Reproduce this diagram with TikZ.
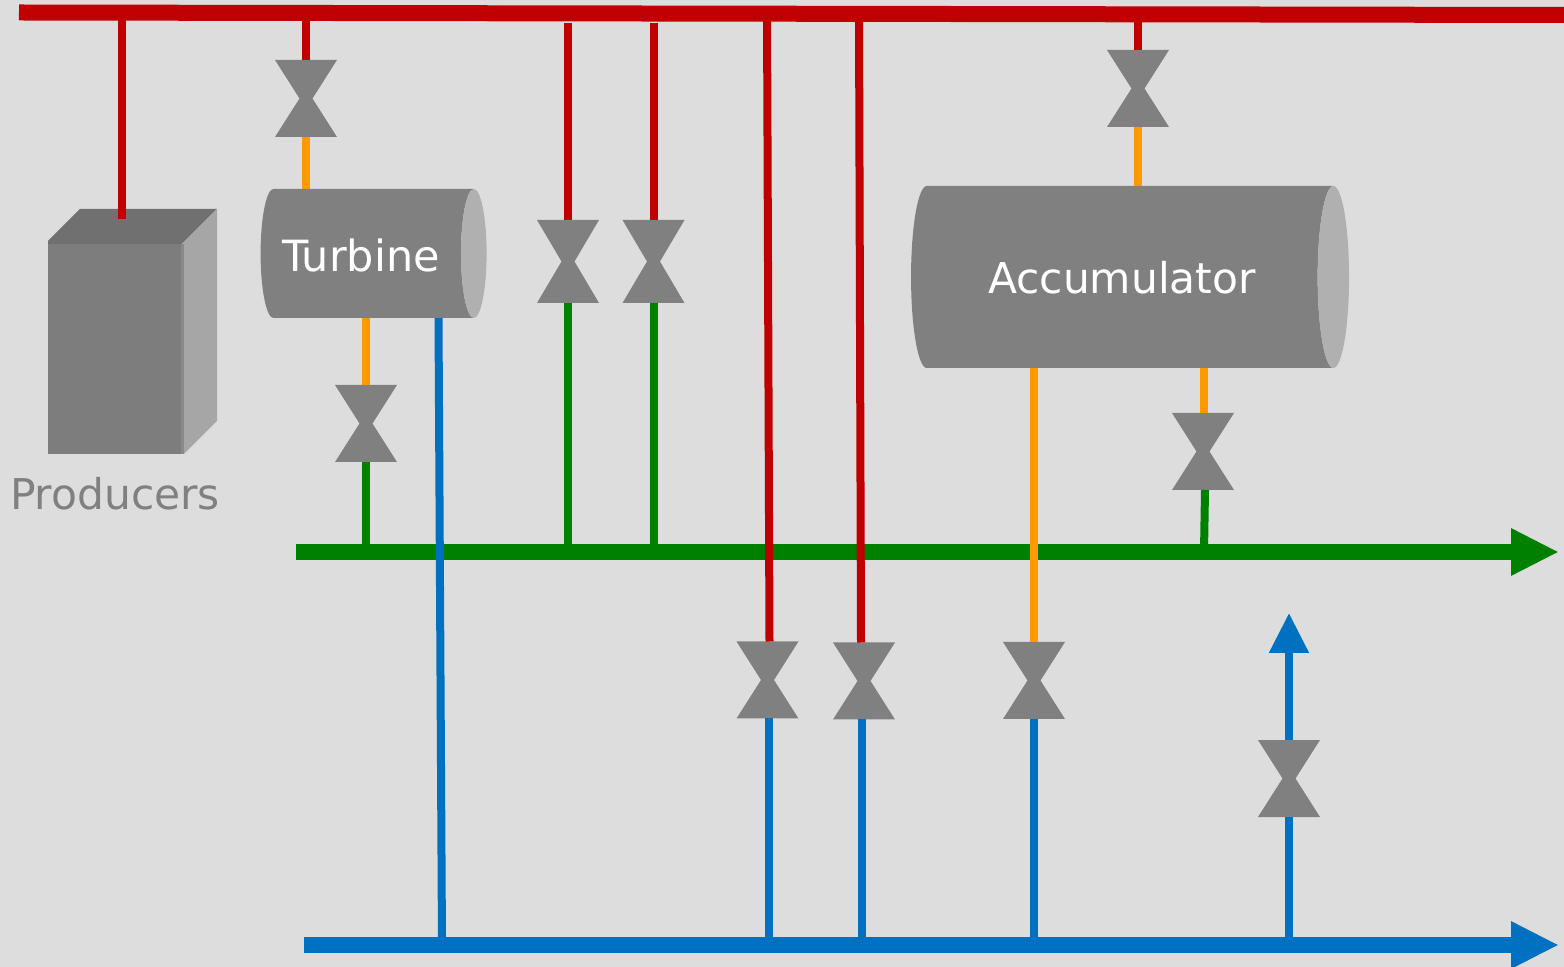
\documentclass[tikz,border=0pt]{standalone}
\usepackage{fontspec}
\setmainfont{DejaVu Sans}
\usetikzlibrary{arrows.meta,shapes.geometric}
\definecolor{bgrey}{HTML}{DDDDDD}
\definecolor{vgrey}{HTML}{808080}
\definecolor{cgrey}{HTML}{B0B0B0}
\definecolor{pred}{HTML}{C00000}
\definecolor{pgreen}{HTML}{008000}
\definecolor{pblue}{HTML}{0070C0}
\definecolor{porange}{HTML}{FF9900}
\tikzset{
  bus/.style={line width=8pt},
  pipe/.style={line width=4pt},
  valve/.style={minimum width=31pt,minimum height=38.5pt,inner sep=0pt,outer sep=0pt,
    path picture={\fill[vgrey] (path picture bounding box.north west)
      -- (path picture bounding box.north east)
      -- ([xshift=3.25pt]path picture bounding box.center)
      -- (path picture bounding box.south east)
      -- (path picture bounding box.south west)
      -- ([xshift=-3.25pt]path picture bounding box.center) -- cycle;}},
  tallvalve/.style={valve,minimum height=41.5pt},
  drum/.style={cylinder,cylinder uses custom fill,cylinder body fill=vgrey,
    cylinder end fill=cgrey,inner sep=0pt,outer sep=0pt,text=white},
}
\begin{document}
\begin{tikzpicture}[x=0.5pt,y=-0.5pt]
\useasboundingbox (0,0) rectangle (1564,967);
\fill [bgrey] (0,0) rectangle (1564,967);

% producers box
\fill [black!56] (48,241) -- (80,209) -- (217,209) -- (181,245) -- (48,245) -- cycle;
\fill [black!35] (181,245) -- (217,209) -- (217,421) -- (184,454) -- cycle;
\node [fill=black!51,inner sep=0pt,outer sep=0pt,minimum width=68pt,minimum height=105pt] (producers) at (116,349.5) {};
\fill [black!46] (181,244) rectangle (184,454);
\node [text=vgrey,inner sep=0pt,font=\fontsize{21.2}{25}\selectfont] (producerstext) at (115,494) {Producers};

% equipment
\node [drum,shape aspect=0.77,minimum height=113pt,minimum width=64.5pt,font=\fontsize{21.5}{25}\selectfont] (turbine) at (367,253.5) {\raisebox{-0.75pt}[\height][\depth]{Turbine}\kern6pt};
\node [drum,shape aspect=0.957,minimum height=219pt,minimum width=91pt,font=\fontsize{21.2}{25}\selectfont] (accumulator) at (1122,277) {\raisebox{-0.5pt}[\height][\depth]{Accumulator}};

\node [valve] (vturbinein) at (306,98.5) {};
\node [valve] (vturbineout) at (366,423.5) {};
\node [tallvalve] (vredone) at (568,261.5) {};
\node [tallvalve] (vredtwo) at (653.5,261.5) {};
\node [valve] (vredthree) at (767.5,680) {};
\node [valve] (vredfour) at (864,681) {};
\node [valve] (vaccblue) at (1034,680.5) {};
\node [valve] (vaccin) at (1138,88.5) {};
\node [valve] (vaccout) at (1203,451.5) {};
\node [valve] (vblueup) at (1289,778.5) {};

\coordinate (redstart) at (19,12.5);
\coordinate (redend) at (1564,15);
\coordinate (greenstart) at (296,552);
\coordinate (greenend) at (1559,552);
\coordinate (bluestart) at (304,945);
\coordinate (blueend) at (1559,945);
\coordinate (producerstap) at (122,219.5);
\coordinate (redonetop) at (568,23);
\coordinate (redtwotop) at (653.5,23);
\coordinate (blueuptip) at (1289,613);

% main lines
\draw [bus,pred] (redstart) -- (redend);
\draw [bus,pgreen,-{Triangle[length=24pt,width=22pt]}] (greenstart) -- (greenend);
\draw [bus,pblue,-{Triangle[length=24pt,width=22pt]}] (bluestart) -- (blueend);

% red branches
\draw [pipe,pred] (producerstap |- redstart) -- (producerstap);
\draw [pipe,pred] (vturbinein.north |- redstart) -- (vturbinein.north);
\draw [pipe,pred] (redonetop) -- (vredone.north);
\draw [pipe,pred] (redtwotop) -- (vredtwo.north);
\draw [pipe,pred] (767,12) -- ([xshift=1pt]vredthree.north);
\draw [pipe,pred] (859,12) -- ([xshift=-1.5pt]vredfour.north);
\draw [pipe,pred] (vaccin.north |- redstart) -- (vaccin.north);

% orange
\draw [pipe,porange] (vturbinein.south) -- (vturbinein.south |- turbine.north);
\draw [pipe,porange] (vturbineout.north |- turbine.south) -- (vturbineout.north);
\draw [pipe,porange] (vaccin.south) -- (vaccin.south |- accumulator.north);
\draw [pipe,porange] (vaccblue.north |- accumulator.south) -- (vaccblue.north);
\draw [pipe,porange] ([xshift=0.5pt]vaccout.north |- accumulator.south) -- ([xshift=0.5pt]vaccout.north);

% green
\draw [pipe,pgreen] (vturbineout.south) -- (vturbineout.south |- greenstart);
\draw [pipe,pgreen] (vredone.south) -- (vredone.south |- greenstart);
\draw [pipe,pgreen] (vredtwo.south) -- (vredtwo.south |- greenstart);
\draw [pipe,pgreen] ([xshift=1pt]vaccout.south) -- ([xshift=0.5pt]vaccout.south |- greenstart);

% blue
\draw [pipe,pblue] (438.5,318) -- (442,945);
\draw [pipe,pblue] ([xshift=0.75pt]vredthree.south) -- ([xshift=0.75pt]vredthree.south |- bluestart);
\draw [pipe,pblue] ([xshift=-1pt]vredfour.south) -- ([xshift=-1pt]vredfour.south |- bluestart);
\draw [pipe,pblue] (vaccblue.south) -- (vaccblue.south |- bluestart);
\draw [pipe,pblue] (vblueup.south |- bluestart) -- (vblueup.south);
\draw [pipe,pblue,-{Triangle[length=20pt,width=19pt]}] (vblueup.north) -- (blueuptip);
\end{tikzpicture}
\end{document}
